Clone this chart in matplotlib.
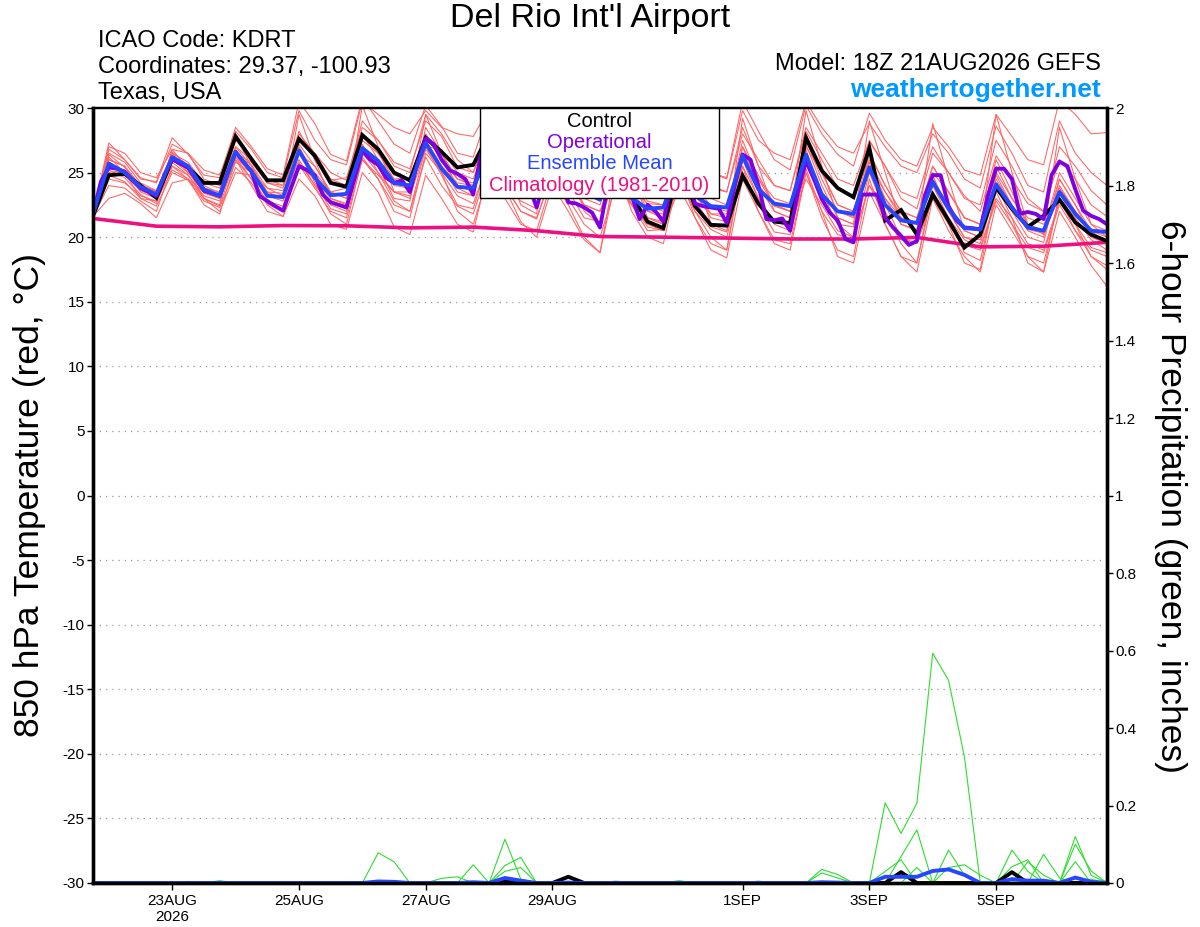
import numpy as np
import pandas as pd
import matplotlib
matplotlib.use('Agg')
import matplotlib.pyplot as plt
from matplotlib.patches import Rectangle

plt.rcParams['font.family'] = ['Liberation Sans', 'DejaVu Sans']
plt.rcParams['axes.unicode_minus'] = False

# ---------------- data ----------------
start = pd.Timestamp('2026-08-21 18:00')
times = pd.date_range(start, periods=65, freq='6h')          # GEFS 6-hourly
times_op = pd.date_range(start, periods=129, freq='3h')      # operational 3-hourly
clim_times = pd.date_range(start, periods=17, freq='24h')    # climatology daily

control = [21.65,
           24.8, 24.9, 24.0, 23.05, 26.05, 25.4, 24.2, 24.2, 27.8, 26.05, 24.4, 24.4,
           27.6, 26.3, 24.2, 23.9, 27.9, 26.8, 25.0, 24.4, 27.7, 26.6, 25.4, 25.6,
           28.0, 26.5, 25.0, 24.5, 27.5, 26.0, 24.5, 24.0, 26.5, 23.2, 21.2, 20.7,
           25.5, 22.4, 20.95, 20.9, 24.76, 22.6, 21.2, 21.1, 27.7, 25.15, 23.8, 23.1,
           26.9, 21.3, 22.1, 20.2, 23.3, 21.3, 19.2, 20.2, 23.85, 22.2, 20.8, 21.65,
           22.9, 21.15, 20.2, 19.7]

ens_mean = [21.8,
            25.7, 25.0, 23.9, 23.3, 26.2, 25.5, 23.7, 23.2, 26.6, 25.1, 23.2, 23.1,
            26.7, 24.6, 23.25, 23.35, 26.9, 25.9, 24.2, 24.0, 27.3, 25.3, 23.9, 23.8,
            26.8, 25.4, 23.9, 23.5, 26.4, 24.8, 23.5, 22.9, 25.9, 23.0, 22.2, 22.3,
            25.6, 23.2, 22.4, 22.3, 26.3, 23.7, 22.6, 22.4, 26.4, 23.3, 22.0, 21.8,
            25.4, 22.5, 21.3, 21.1, 24.3, 22.2, 20.7, 20.6, 24.1, 22.3, 20.75, 20.5,
            23.5, 21.8, 20.5, 20.4]

operational = [21.8, 24.3, 25.4, 25.3, 25.07, 24.4, 23.8, 23.5, 23.2, 24.8,
               26.05, 25.7, 25.4, 24.5, 23.6, 23.4, 23.2, 25.0, 26.6, 25.8,
               25.1, 23.2, 22.8, 22.4, 22.05, 23.8, 25.5, 25.2, 24.8, 23.3,
               22.7, 22.5, 22.3, 24.5, 26.7, 26.0, 25.6, 24.6, 24.2, 24.4,
               23.5, 25.8, 27.65, 27.2, 26.0, 25.2, 24.9, 24.5, 23.3, 26.5,
               27.2, 26.0, 25.0, 24.6, 24.2, 24.0, 22.3, 24.5, 26.5, 24.5,
               22.7, 22.6, 22.3, 21.9, 20.75, 24.0, 26.5, 25.0, 23.2, 21.4,
               22.5, 22.0, 21.2, 24.0, 26.8, 24.8, 22.6, 22.4, 22.3, 22.2,
               21.1, 24.0, 26.4, 26.0, 24.0, 21.4, 21.3, 21.45, 20.5, 23.5,
               25.9, 24.5, 22.95, 21.9, 21.3, 19.85, 19.6, 23.3, 23.3, 23.3,
               21.5, 20.75, 20.1, 19.4, 19.7, 23.2, 24.8, 24.8, 22.4, 21.3,
               20.75, 20.7, 20.6, 23.3, 25.3, 25.3, 24.5, 21.8, 21.95, 21.8,
               21.4, 24.8, 25.85, 25.5, 23.7, 22.05, 21.65, 21.4, 21.0]

climatology = [21.45, 20.85, 20.8, 20.9, 20.88, 20.72, 20.78, 20.5, 20.05,
               20.0, 19.93, 19.86, 19.86, 19.98, 19.25, 19.3, 19.6]

members = [
    [21.8, 27.3, 26.0, 24.5, 24.3, 27.7, 26.4, 24.8, 24.6, 28.5, 27.0, 25.3, 24.8,
     30.5, 28.8, 26.4, 25.9, 30.8, 29.0, 27.2, 26.5, 30.2, 28.6, 26.5, 26.2,
     29.8, 28.0, 26.0, 25.5, 29.6, 27.5, 25.2, 24.8, 28.8, 26.5, 24.6, 24.0,
     29.2, 27.0, 25.0, 24.6, 30.5, 28.2, 26.0, 25.2, 30.2, 28.0, 26.4, 25.5,
     29.6, 27.5, 26.0, 25.5, 28.5, 27.0, 25.2, 24.8, 29.5, 27.8, 26.0, 25.6,
     30.6, 29.5, 28.0, 28.1],
    [21.6, 23.0, 23.4, 22.6, 21.5, 24.2, 24.5, 23.0, 22.0, 25.0, 24.8, 22.5, 21.6,
     24.5, 23.2, 21.0, 20.6, 25.0, 23.5, 20.8, 20.2, 24.8, 23.0, 21.0, 20.4,
     25.5, 23.8, 21.2, 20.0, 24.0, 22.0, 19.8, 18.8, 24.5, 22.5, 20.5, 20.6,
     23.8, 21.5, 19.0, 18.4, 24.5, 22.0, 19.5, 19.0, 25.0, 22.0, 18.5, 18.0,
     23.5, 21.0, 18.5, 17.3, 23.0, 20.5, 18.5, 17.3, 22.5, 20.5, 18.5, 17.3,
     22.0, 20.0, 17.8, 16.2],
    [21.7, 26.8, 26.0, 24.6, 24.2, 27.2, 26.5, 24.5, 24.0, 27.5, 26.2, 24.2, 24.0,
     28.2, 26.0, 24.4, 24.6, 28.5, 27.5, 25.8, 25.3, 29.0, 27.8, 25.4, 25.0,
     28.4, 26.5, 25.0, 24.8, 27.8, 26.8, 24.5, 24.2, 27.5, 24.8, 23.6, 23.4,
     27.0, 25.4, 23.8, 23.5, 28.5, 25.5, 24.0, 23.6, 28.2, 26.0, 23.8, 23.0,
     27.4, 25.5, 23.0, 22.2, 26.5, 25.0, 23.2, 22.0, 26.3, 24.5, 22.6, 22.0,
     27.0, 25.5, 23.6, 22.5],
    [21.7, 24.8, 24.3, 23.0, 22.4, 25.0, 24.4, 22.8, 22.3, 25.4, 24.2, 22.6, 22.0,
     25.6, 23.8, 22.0, 21.5, 26.0, 24.5, 22.5, 22.0, 26.2, 24.0, 22.4, 21.8,
     25.6, 23.9, 22.0, 21.4, 25.0, 23.6, 21.5, 21.2, 24.8, 22.6, 20.8, 20.5,
     24.4, 22.0, 20.6, 20.0, 25.0, 22.5, 20.4, 20.2, 25.3, 22.0, 20.2, 19.8,
     24.0, 21.6, 19.8, 19.5, 23.0, 21.0, 19.4, 19.0, 22.8, 21.0, 19.2, 18.8,
     22.5, 20.5, 19.0, 18.5],
    [21.6, 26.2, 25.0, 23.0, 22.8, 26.8, 25.2, 23.0, 22.5, 27.8, 25.5, 23.2, 22.8,
     29.5, 26.0, 23.0, 22.5, 30.2, 27.0, 23.5, 23.0, 29.5, 26.5, 23.8, 23.2,
     29.0, 26.0, 22.5, 21.8, 29.5, 26.0, 22.0, 21.0, 28.6, 25.0, 21.5, 21.0,
     29.0, 25.0, 21.0, 20.5, 29.2, 25.5, 22.0, 21.5, 29.8, 25.5, 21.5, 21.0,
     29.0, 25.0, 21.0, 20.5, 28.8, 24.5, 20.5, 20.0, 29.5, 25.0, 21.0, 20.2,
     28.5, 24.5, 21.0, 20.0],
    [21.8, 25.5, 25.0, 23.8, 23.5, 26.0, 25.5, 24.0, 23.4, 26.4, 25.6, 23.8, 23.2,
     26.5, 25.0, 23.5, 23.8, 27.0, 26.0, 24.5, 24.6, 27.5, 25.5, 24.2, 24.0,
     26.6, 25.0, 23.5, 23.2, 26.0, 24.5, 23.0, 22.5, 26.2, 23.5, 22.0, 21.8,
     26.5, 23.8, 21.8, 21.5, 27.0, 24.0, 22.5, 22.0, 26.5, 23.5, 22.0, 21.6,
     25.8, 23.0, 21.0, 20.6, 24.5, 22.5, 20.5, 20.0, 24.8, 22.5, 20.6, 20.3,
     23.8, 22.0, 20.2, 19.8],
    [21.7, 26.5, 25.8, 24.2, 23.6, 26.5, 25.0, 23.5, 23.0, 26.0, 24.5, 22.8, 22.4,
     27.0, 24.8, 22.5, 22.0, 26.5, 25.0, 23.5, 23.5, 27.8, 26.0, 24.5, 24.2,
     27.0, 25.5, 23.8, 23.0, 26.8, 24.8, 22.5, 22.0, 25.5, 23.0, 21.5, 21.2,
     25.8, 23.2, 21.8, 21.8, 27.5, 24.5, 22.4, 22.0, 27.2, 24.0, 21.5, 21.0,
     25.5, 23.5, 21.8, 21.0, 24.8, 22.0, 20.0, 19.5, 23.8, 22.0, 20.0, 19.6,
     24.5, 22.5, 20.5, 19.5],
    [21.5, 25.0, 25.2, 24.0, 23.5, 26.5, 25.8, 24.2, 23.8, 27.0, 25.5, 23.5, 23.0,
     26.0, 24.0, 22.8, 22.4, 27.5, 26.5, 24.8, 24.5, 27.0, 26.8, 25.0, 24.5,
     27.8, 26.5, 24.5, 24.0, 26.2, 24.5, 23.5, 23.2, 25.0, 23.8, 22.6, 22.5,
     25.2, 22.8, 21.0, 20.8, 26.0, 24.0, 22.5, 22.0, 26.8, 23.0, 21.0, 20.8,
     26.5, 24.0, 22.0, 21.5, 25.5, 23.5, 21.5, 21.0, 25.0, 23.0, 21.5, 21.0,
     23.0, 21.5, 19.8, 19.0],
    [21.6, 24.0, 23.8, 22.8, 22.0, 25.5, 24.5, 22.5, 21.8, 26.0, 24.0, 22.0, 21.6,
     25.8, 24.0, 21.8, 21.0, 26.2, 24.5, 22.0, 21.5, 26.5, 25.0, 22.0, 21.0,
     25.0, 23.0, 21.0, 20.5, 24.5, 22.5, 20.0, 18.8, 25.5, 22.0, 20.0, 19.5,
     25.0, 21.5, 19.5, 19.0, 25.5, 22.0, 19.8, 19.5, 25.0, 21.5, 19.0, 18.5,
     24.5, 21.0, 18.5, 18.0, 24.0, 21.5, 18.8, 18.2, 23.5, 21.0, 18.5, 18.0,
     23.0, 20.5, 18.5, 17.5],
    [21.9, 27.0, 26.5, 25.0, 24.6, 26.8, 26.5, 25.2, 24.8, 28.2, 26.8, 25.0, 24.6,
     29.8, 27.5, 26.0, 25.6, 30.5, 29.5, 28.5, 28.0, 29.8, 28.5, 28.0, 27.8,
     30.0, 28.0, 26.5, 26.0, 28.5, 27.0, 26.0, 25.5, 28.0, 26.5, 25.5, 25.0,
     28.5, 26.5, 25.0, 24.5, 29.8, 27.5, 26.5, 26.0, 30.5, 28.5, 27.0, 26.5,
     28.8, 27.0, 25.5, 25.0, 28.0, 26.5, 24.5, 23.8, 28.6, 26.5, 24.0, 23.5,
     29.0, 26.5, 25.0, 24.0],
    [21.7, 25.8, 24.8, 23.6, 23.2, 25.5, 24.8, 23.2, 22.8, 26.5, 25.8, 24.2, 23.8,
     27.2, 25.5, 23.5, 23.0, 27.0, 25.5, 23.0, 22.8, 28.5, 26.5, 24.5, 24.0,
     27.5, 25.8, 24.0, 23.6, 27.0, 25.5, 24.0, 23.5, 27.0, 24.5, 22.5, 22.0,
     26.0, 24.0, 22.4, 22.0, 26.5, 24.5, 23.0, 22.6, 27.5, 24.5, 22.0, 21.5,
     26.0, 23.5, 21.5, 21.0, 24.0, 22.0, 20.0, 19.8, 24.5, 22.5, 20.5, 20.0,
     24.0, 22.0, 20.5, 20.0],
    [21.8, 26.0, 25.5, 24.0, 23.5, 26.3, 25.2, 23.8, 23.2, 26.8, 25.0, 23.4, 23.0,
     28.0, 26.5, 24.5, 24.0, 28.0, 26.5, 24.5, 24.0, 28.0, 26.0, 24.0, 23.5,
     26.5, 24.8, 23.5, 23.0, 26.5, 25.0, 23.8, 23.0, 26.8, 24.5, 22.8, 22.5,
     27.0, 24.5, 23.0, 22.5, 26.5, 24.0, 22.0, 21.5, 27.0, 25.0, 22.5, 22.0,
     25.0, 23.0, 21.5, 21.0, 25.5, 23.5, 21.5, 21.0, 25.5, 23.0, 21.0, 20.5,
     25.0, 23.0, 21.0, 20.5],
    [21.6, 24.5, 24.2, 23.2, 22.8, 25.2, 24.5, 23.5, 23.0, 25.8, 25.0, 23.5, 23.4,
     25.5, 24.5, 23.0, 22.6, 26.0, 24.8, 23.5, 23.2, 26.8, 25.0, 23.2, 22.6,
     26.0, 24.2, 22.8, 22.2, 25.5, 24.0, 22.5, 22.0, 24.5, 23.0, 21.5, 21.0,
     24.8, 22.5, 20.8, 20.4, 25.5, 23.0, 21.2, 20.8, 24.5, 22.5, 20.5, 20.0,
     24.0, 22.5, 20.0, 19.5, 23.5, 21.5, 19.8, 19.2, 23.0, 21.5, 19.5, 19.0,
     22.8, 21.0, 19.2, 18.8],
    [21.7, 26.4, 25.4, 24.0, 23.6, 26.0, 25.0, 23.8, 23.5, 27.0, 26.0, 24.5, 24.0,
     27.5, 26.5, 25.0, 24.4, 29.0, 27.5, 25.5, 25.0, 29.5, 28.0, 26.0, 25.0,
     28.0, 26.5, 25.0, 24.6, 28.5, 26.0, 23.8, 23.5, 27.0, 25.0, 23.8, 23.5,
     27.5, 25.5, 24.0, 23.5, 28.0, 26.0, 24.0, 23.6, 28.5, 26.5, 24.5, 24.0,
     27.5, 25.5, 23.5, 23.0, 27.0, 25.0, 23.0, 22.5, 27.5, 25.5, 23.0, 22.0,
     26.0, 24.5, 22.5, 21.6],
    [21.6, 25.2, 24.6, 23.3, 22.6, 25.8, 24.8, 23.0, 22.4, 26.2, 24.5, 22.6, 22.0,
     26.8, 24.2, 22.2, 21.8, 27.2, 25.0, 22.8, 22.0, 27.0, 24.8, 22.5, 22.2,
     26.2, 24.0, 22.0, 21.5, 25.0, 23.0, 21.0, 20.0, 24.0, 22.5, 21.0, 20.5,
     24.5, 22.0, 20.0, 19.0, 26.0, 23.0, 21.0, 20.5, 26.5, 23.5, 21.0, 20.0,
     25.0, 22.0, 19.5, 18.0, 23.5, 21.0, 18.0, 17.5, 24.0, 21.5, 18.0, 17.3,
     23.5, 21.0, 18.5, 17.8],
    [21.8, 26.0, 25.5, 23.5, 23.0, 26.6, 25.5, 23.4, 23.0, 26.2, 25.0, 23.8, 23.6,
     26.5, 25.5, 23.5, 23.0, 28.0, 26.0, 24.0, 23.8, 27.0, 25.5, 23.5, 23.2,
     27.5, 26.0, 24.0, 23.5, 26.5, 25.0, 23.5, 22.8, 26.5, 24.8, 22.0, 21.5,
     25.5, 23.5, 21.5, 21.2, 27.0, 24.8, 22.5, 22.0, 28.0, 25.0, 22.5, 22.0,
     26.5, 24.0, 22.0, 21.5, 25.0, 23.5, 21.5, 21.0, 26.0, 23.5, 21.0, 20.5,
     24.5, 22.5, 20.0, 19.5],
]

precip_members = [
    [0, 0, 0, 0, 0, 0, 0, 0, 0, 0, 0, 0, 0,
     0, 0, 0, 0, 0, 0, 0, 0, 0, 0, 0, 0, 0,
     0, 0, 0, 0, 0, 0, 0, 0, 0, 0, 0, 0, 0,
     0, 0, 0, 0, 0, 0, 0, 0, 0, 0, 0, 0.207, 0.128,
     0.206, 0.593, 0.523, 0.326, 0, 0, 0, 0, 0, 0, 0, 0, 0],
    [0, 0, 0, 0, 0, 0, 0, 0, 0, 0, 0, 0, 0,
     0, 0, 0, 0, 0, 0.078, 0.055, 0, 0, 0, 0, 0, 0,
     0, 0, 0, 0, 0, 0, 0, 0, 0, 0, 0, 0, 0,
     0, 0, 0, 0, 0, 0, 0, 0, 0, 0, 0, 0, 0.068,
     0.137, 0, 0, 0, 0, 0, 0.085, 0.03, 0, 0, 0, 0, 0],
    [0, 0, 0, 0, 0, 0, 0, 0, 0, 0, 0, 0, 0,
     0, 0, 0, 0, 0, 0, 0, 0, 0, 0, 0, 0, 0,
     0.113, 0.01, 0, 0, 0, 0, 0, 0, 0, 0, 0, 0, 0,
     0, 0, 0, 0, 0, 0, 0, 0, 0, 0, 0, 0, 0,
     0, 0, 0, 0, 0, 0, 0, 0, 0, 0, 0.12, 0.02, 0],
    [0, 0, 0, 0, 0, 0, 0, 0, 0, 0, 0, 0, 0,
     0, 0, 0, 0, 0, 0, 0, 0, 0, 0, 0, 0.047, 0,
     0.045, 0.066, 0, 0, 0, 0, 0, 0, 0, 0, 0, 0, 0,
     0, 0, 0, 0, 0, 0, 0, 0, 0, 0, 0, 0, 0,
     0, 0, 0.085, 0.02, 0, 0, 0, 0, 0.074, 0.013, 0, 0, 0],
    [0, 0, 0, 0, 0, 0, 0, 0, 0, 0, 0, 0, 0,
     0, 0, 0, 0, 0, 0, 0, 0, 0, 0, 0, 0, 0,
     0.03, 0.04, 0, 0, 0, 0, 0, 0, 0, 0, 0, 0, 0,
     0, 0, 0, 0, 0, 0, 0, 0.035, 0.022, 0, 0, 0.03, 0.06,
     0, 0, 0, 0, 0, 0, 0.042, 0.06, 0, 0, 0.1, 0.031, 0],
    [0, 0, 0, 0, 0, 0, 0.004, 0, 0.006, 0, 0, 0, 0,
     0, 0, 0, 0, 0, 0, 0, 0, 0, 0.012, 0.016, 0, 0,
     0, 0, 0, 0, 0, 0, 0, 0, 0, 0, 0, 0, 0,
     0, 0, 0, 0, 0, 0, 0, 0.026, 0.013, 0, 0, 0, 0,
     0.04, 0, 0.04, 0.047, 0.02, 0, 0, 0, 0, 0, 0.055, 0, 0.005],
    [0, 0, 0, 0, 0, 0, 0, 0, 0, 0, 0, 0, 0,
     0, 0, 0, 0, 0, 0, 0, 0, 0, 0, 0, 0, 0,
     0, 0, 0, 0, 0, 0, 0, 0.005, 0, 0, 0, 0.006, 0,
     0, 0, 0, 0.005, 0, 0, 0, 0, 0, 0, 0, 0, 0,
     0, 0, 0, 0, 0, 0, 0, 0.055, 0.02, 0, 0, 0.01, 0],
]

precip_control = [0, 0, 0, 0, 0, 0, 0, 0, 0, 0, 0, 0, 0,
                  0, 0, 0, 0, 0, 0, 0, 0, 0, 0, 0, 0, 0,
                  0.005, 0, 0, 0, 0.016, 0, 0, 0, 0, 0, 0, 0, 0,
                  0, 0, 0, 0, 0, 0, 0, 0, 0, 0, 0, 0, 0.028,
                  0, 0, 0, 0, 0, 0, 0.028, 0, 0, 0, 0, 0, 0]

precip_mean = [0, 0, 0, 0, 0, 0, 0, 0, 0, 0, 0, 0, 0,
               0, 0, 0, 0, 0, 0.004, 0.003, 0, 0, 0, 0, 0.002, 0,
               0.013, 0.006, 0, 0, 0.001, 0, 0, 0, 0, 0, 0, 0, 0,
               0, 0, 0, 0, 0, 0, 0, 0.002, 0.001, 0, 0, 0.016, 0.016,
               0.016, 0.031, 0.035, 0.021, 0, 0, 0.01, 0.006, 0.006, 0, 0.014, 0.003, 0]

tick_dates = ['2026-08-23', '2026-08-25', '2026-08-27', '2026-08-29',
              '2026-09-01', '2026-09-03', '2026-09-05']
tick_labels = ['23AUG\n2026', '25AUG', '27AUG', '29AUG', '1SEP', '3SEP', '5SEP']
temp_ticks = list(range(-30, 31, 5))
precip_ticks = [0, 0.2, 0.4, 0.6, 0.8, 1.0, 1.2, 1.4, 1.6, 1.8, 2.0]
precip_tick_labels = ['0', '0.2', '0.4', '0.6', '0.8', '1', '1.2', '1.4', '1.6', '1.8', '2']

# ---------------- figure ----------------
W, H = 1200, 927
fig = plt.figure(figsize=(W / 100, H / 100), dpi=100)
L, R, T, B = 93, 1107, 108, 883
ax = fig.add_axes([L / W, 1 - B / H, (R - L) / W, (B - T) / H])

red = '#ff6464'
purple = '#7f00e0'
blue = '#2646ff'
pink = '#ee1080'
green = '#2edd2e'

for m in members:
    ax.plot(times, m, color=red, lw=0.75, zorder=2)
ax.plot(clim_times, climatology, color=pink, lw=2.6, zorder=3)
ax.plot(times, control, color='black', lw=2.8, zorder=4, solid_joinstyle='miter')
ax.plot(times_op, operational, color=purple, lw=2.8, zorder=5)
ax.plot(times, ens_mean, color=blue, lw=2.8, zorder=6)

ax.set_ylim(-30, 30)
ax.set_xlim(times[0], times[-1])
ax.set_yticks(temp_ticks)
ax.set_yticklabels([str(t) for t in temp_ticks])
ax.set_xticks(pd.to_datetime(tick_dates))
ax.set_xticklabels(tick_labels)
ax.grid(axis='y', linestyle=(0, (1, 4)), color='#999999', lw=0.9)
ax.set_axisbelow(True)
ax.tick_params(axis='y', direction='out', length=4, width=1, labelsize=11, pad=2)
ax.tick_params(axis='x', direction='out', length=5, width=1, labelsize=11, pad=3)

ax2 = ax.twinx()
for p in precip_members:
    ax2.plot(times, p, color=green, lw=0.8, zorder=1.0)
ax2.plot(times, precip_control, color='black', lw=2.8, zorder=1.5)
ax2.plot(times, precip_mean, color=blue, lw=2.8, zorder=2.0)
ax2.set_ylim(0, 2)
ax2.set_yticks(precip_ticks)
ax2.set_yticklabels(precip_tick_labels)
ax2.tick_params(axis='y', direction='out', length=4, width=1, labelsize=11, pad=2)

for a in (ax, ax2):
    a.spines['left'].set_linewidth(2.4)
    a.spines['bottom'].set_linewidth(2.4)
    a.spines['right'].set_linewidth(2.4)
    a.spines['top'].set_linewidth(1.6)
    for s in a.spines.values():
        s.set_zorder(2.5)

# legend box
lx0, lx1, ly0 = 480, 719, 198
ax2.add_patch(Rectangle(((lx0 - L) / (R - L), (B - ly0) / (B - T)),
                        (lx1 - lx0) / (R - L), (ly0 - T) / (B - T),
                        transform=ax2.transAxes, facecolor='white',
                        edgecolor='black', lw=1.0, zorder=20, clip_on=False))
leg_items = [('Control', 'black', 121), ('Operational', purple, 142),
             ('Ensemble Mean', blue, 163), ('Climatology (1981-2010)', pink, 185)]
for txt, col, yy in leg_items:
    ax2.text(((lx0 + lx1) / 2 - L) / (R - L), (B - yy) / (B - T), txt,
             transform=ax2.transAxes, ha='center', va='center', color=col,
             fontsize=14.5, zorder=21)

# header texts
fig.text(590 / W, 1 - 18 / H, "Del Rio Int'l Airport", ha='center', va='center', fontsize=24.5)
fig.text(98 / W, 1 - 41 / H, 'ICAO Code: KDRT', ha='left', va='center', fontsize=17)
fig.text(98 / W, 1 - 67 / H, 'Coordinates: 29.37, -100.93', ha='left', va='center', fontsize=17)
fig.text(98 / W, 1 - 93 / H, 'Texas, USA', ha='left', va='center', fontsize=17)
fig.text(1101 / W, 1 - 64 / H, 'Model: 18Z 21AUG2026 GEFS', ha='right', va='center', fontsize=17)
fig.text(1101 / W, 1 - 90 / H, 'weathertogether.net', ha='right', va='center',
         fontsize=19, fontweight='bold', color='#0099ff')

fig.text(30 / W, 1 - 495 / H, '850 hPa Temperature (red, °C)', rotation=90,
         ha='center', va='center', fontsize=25.5)
fig.text(1170 / W, 1 - 496 / H, '6-hour Precipitation (green, inches)', rotation=270,
         ha='center', va='center', fontsize=25.5)

fig.savefig('out.png', dpi=100)
